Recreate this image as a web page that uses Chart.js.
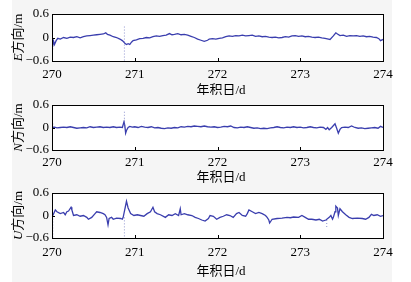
<!DOCTYPE html>
<html>
<head>
<meta charset="utf-8">
<script src="https://cdn.jsdelivr.net/npm/chart.js@4.4.1/dist/chart.umd.min.js"></script>
<style>
  html, body { margin: 0; padding: 0; background: #fff; }
  #page { position: relative; width: 411px; height: 282px; overflow: hidden; }
  #shade { position: absolute; left: 12px; top: 0; width: 380px; height: 282px; background: #f5f5f5; }
  canvas { position: absolute; left: 0; }
</style>
</head>
<body>
<div id="page">
  <div id="shade"></div>
  <canvas id="cE" width="411" height="95" style="top:0px"></canvas>
  <canvas id="cN" width="411" height="90" style="top:95px"></canvas>
  <canvas id="cU" width="411" height="97" style="top:185px"></canvas>
</div>
<script>
// axis ticks
const dayTicks = [270, 271, 272, 273, 274];
const valueTicks = [-0.6, 0, 0.6];

// E direction residuals (m)
const eDays = [270.00, 270.01, 270.02, 270.03, 270.05, 270.07, 270.10, 270.14, 270.18, 270.22,
  270.26, 270.30, 270.34, 270.38, 270.42, 270.46, 270.50, 270.54, 270.58, 270.62,
  270.65, 270.67, 270.70, 270.74, 270.78, 270.82, 270.85, 270.87, 270.88, 270.90,
  270.92, 270.94, 270.96, 270.98, 271.02, 271.06, 271.10, 271.14, 271.18, 271.22,
  271.26, 271.30, 271.34, 271.38, 271.42, 271.45, 271.48, 271.52, 271.56, 271.60,
  271.64, 271.68, 271.72, 271.76, 271.80, 271.84, 271.88, 271.90, 271.94, 271.98,
  272.02, 272.06, 272.10, 272.14, 272.18, 272.22, 272.26, 272.30, 272.34, 272.38,
  272.42, 272.46, 272.50, 272.54, 272.58, 272.62, 272.66, 272.70, 272.74, 272.78,
  272.82, 272.86, 272.90, 272.94, 272.98, 273.02, 273.06, 273.10, 273.14, 273.18,
  273.22, 273.26, 273.30, 273.34, 273.36, 273.40, 273.43, 273.45, 273.48, 273.52,
  273.56, 273.60, 273.64, 273.68, 273.72, 273.76, 273.80, 273.84, 273.88, 273.92,
  273.95, 273.97, 274.00];
const eVals = [-0.05, -0.20, -0.10, -0.18, -0.08, -0.02, -0.04, 0.00, -0.02, 0.01,
  0.00, 0.02, -0.01, 0.02, 0.04, 0.05, 0.06, 0.07, 0.08, 0.09,
  0.12, 0.08, 0.06, 0.02, 0.00, -0.04, -0.08, -0.12, -0.15, -0.18,
  -0.16, -0.18, -0.12, -0.08, -0.06, -0.03, -0.02, 0.00, -0.01, 0.02,
  0.04, 0.03, 0.05, 0.06, 0.10, 0.07, 0.08, 0.10, 0.07, 0.08,
  0.06, 0.03, 0.00, -0.04, -0.07, -0.10, -0.07, -0.04, -0.03, -0.04,
  -0.02, -0.01, 0.02, 0.04, 0.03, 0.05, 0.04, 0.06, 0.04, 0.05,
  0.06, 0.03, 0.04, 0.02, 0.03, 0.01, 0.00, 0.01, -0.01, 0.00,
  0.02, 0.01, 0.04, 0.05, 0.03, 0.04, 0.02, 0.03, 0.01, 0.00,
  0.01, -0.01, -0.02, -0.04, -0.05, 0.04, 0.12, 0.09, 0.05, 0.06,
  0.03, 0.05, 0.04, 0.05, 0.03, 0.04, 0.02, 0.03, 0.01, 0.00,
  -0.03, -0.08, -0.05];
const eSpikes = [[270.01, -0.05, -0.32], [270.875, 0.28, -0.6]];

// N direction residuals (m)
const nDays = [270.00, 270.03, 270.06, 270.10, 270.14, 270.18, 270.22, 270.26, 270.30, 270.34,
  270.38, 270.42, 270.46, 270.50, 270.54, 270.58, 270.62, 270.66, 270.70, 270.74,
  270.78, 270.82, 270.85, 270.87, 270.88, 270.89, 270.90, 270.92, 270.94, 270.97,
  271.00, 271.04, 271.08, 271.12, 271.16, 271.20, 271.24, 271.28, 271.32, 271.36,
  271.40, 271.44, 271.48, 271.52, 271.56, 271.60, 271.64, 271.68, 271.72, 271.76,
  271.80, 271.84, 271.88, 271.92, 271.96, 272.00, 272.04, 272.08, 272.12, 272.16,
  272.20, 272.24, 272.28, 272.32, 272.36, 272.40, 272.44, 272.48, 272.52, 272.56,
  272.60, 272.64, 272.68, 272.72, 272.76, 272.80, 272.84, 272.88, 272.92, 272.96,
  273.00, 273.04, 273.08, 273.12, 273.16, 273.20, 273.24, 273.28, 273.31, 273.33,
  273.35, 273.38, 273.42, 273.44, 273.46, 273.48, 273.50, 273.54, 273.58, 273.62,
  273.66, 273.70, 273.74, 273.78, 273.82, 273.86, 273.90, 273.94, 273.97, 274.00];
const nVals = [0.00, 0.01, -0.01, 0.00, 0.01, 0.00, 0.02, 0.00, -0.02, -0.01,
  0.00, -0.01, 0.02, 0.00, 0.01, 0.02, 0.00, 0.01, 0.00, 0.02,
  0.00, 0.01, 0.00, 0.15, 0.05, -0.15, -0.08, 0.00, 0.03, 0.01,
  0.02, 0.00, 0.03, 0.01, 0.00, 0.02, -0.01, 0.00, -0.02, -0.03,
  -0.01, -0.02, 0.00, -0.01, 0.02, 0.01, 0.03, 0.02, 0.04, 0.03,
  0.02, 0.04, 0.02, 0.01, 0.02, 0.00, 0.01, 0.03, 0.02, 0.04,
  0.00, -0.01, 0.01, 0.00, 0.02, 0.00, -0.02, -0.01, -0.03, -0.02,
  -0.03, -0.01, 0.00, 0.02, 0.00, -0.01, 0.01, 0.00, 0.02, 0.00,
  0.01, -0.01, 0.00, 0.02, 0.00, -0.01, 0.01, 0.00, -0.05, 0.00,
  -0.06, 0.00, 0.10, -0.02, -0.15, -0.05, 0.00, 0.01, 0.00, 0.04,
  0.00, -0.02, -0.01, -0.03, -0.02, -0.01, 0.00, -0.02, 0.03, 0.00];
const nSpikes = [[270.875, 0.42, 0.0], [270.01, 0.0, 0.15]];

// U direction residuals (m)
const uDays = [270.01, 270.04, 270.06, 270.10, 270.14, 270.16, 270.18, 270.20, 270.23, 270.24,
  270.26, 270.30, 270.34, 270.38, 270.42, 270.44, 270.48, 270.52, 270.54, 270.58,
  270.62, 270.64, 270.66, 270.677, 270.69, 270.72, 270.74, 270.78, 270.83, 270.85,
  270.86, 270.90, 270.92, 270.95, 270.99, 271.03, 271.07, 271.11, 271.15, 271.19,
  271.22, 271.24, 271.27, 271.31, 271.37, 271.41, 271.45, 271.49, 271.53, 271.55,
  271.56, 271.60, 271.64, 271.69, 271.73, 271.77, 271.81, 271.85, 271.89, 271.91,
  271.95, 271.99, 272.03, 272.07, 272.11, 272.15, 272.19, 272.23, 272.26, 272.30,
  272.34, 272.36, 272.38, 272.42, 272.46, 272.50, 272.54, 272.58, 272.60, 272.62,
  272.63, 272.66, 272.72, 272.78, 272.84, 272.88, 272.92, 272.98, 273.02, 273.06,
  273.10, 273.14, 273.19, 273.23, 273.27, 273.31, 273.35, 273.37, 273.39, 273.40,
  273.42, 273.43, 273.45, 273.46, 273.48, 273.51, 273.55, 273.59, 273.63, 273.69,
  273.75, 273.79, 273.83, 273.86, 273.89, 273.93, 273.97, 274.00];
const uVals = [0.00, 0.15, 0.10, 0.05, 0.08, 0.02, 0.10, 0.12, 0.22, 0.15,
  0.00, 0.02, -0.02, 0.00, -0.05, -0.10, -0.05, 0.05, 0.10, 0.08,
  0.05, 0.02, -0.05, -0.25, -0.08, -0.05, -0.10, -0.07, -0.08, -0.10,
  -0.05, 0.38, 0.20, 0.05, 0.00, 0.02, 0.00, -0.02, 0.05, 0.10,
  0.22, 0.10, 0.05, 0.02, -0.05, 0.02, 0.00, 0.05, 0.00, 0.18,
  0.02, 0.05, 0.02, 0.00, -0.05, -0.08, -0.12, -0.15, -0.08, 0.00,
  -0.02, -0.10, -0.05, -0.02, 0.02, 0.00, -0.05, 0.05, 0.08, 0.00,
  -0.02, 0.05, 0.15, 0.10, 0.05, 0.08, 0.05, 0.00, -0.05, -0.12,
  -0.20, -0.10, -0.08, -0.07, -0.05, -0.06, -0.04, -0.05, 0.00, -0.05,
  -0.10, -0.10, -0.12, -0.10, -0.15, -0.12, -0.05, 0.00, -0.10, -0.05,
  0.10, 0.25, 0.20, 0.00, 0.18, 0.10, 0.02, -0.05, -0.08, -0.07,
  -0.08, -0.10, -0.05, 0.03, 0.00, 0.02, -0.02, 0.00];
const uSpikes = [[270.01, 0.0, -0.6], [270.875, -0.05, -0.6], [273.32, -0.12, -0.35]];

const serif = '"Liberation Serif", "Noto Sans CJK SC", serif';
const lineColor = '#3a3eae';

const framePlugin = {
  id: 'frame',
  beforeDraw(chart) {
    const a = chart.chartArea, ctx = chart.ctx;
    ctx.save();
    ctx.fillStyle = '#ffffff';
    ctx.fillRect(a.left, a.top, a.right - a.left, a.bottom - a.top);
    ctx.restore();
  },
  afterDraw(chart, args, opts) {
    const a = chart.chartArea, ctx = chart.ctx;
    const xs = chart.scales.x, ys = chart.scales.y;
    ctx.save();
    ctx.strokeStyle = '#000';
    ctx.lineWidth = 1;
    ctx.strokeRect(Math.round(a.left) + 0.5, Math.round(a.top) + 0.5,
      Math.round(a.right - a.left), Math.round(a.bottom - a.top));
    // inner tick marks
    ctx.beginPath();
    dayTicks.forEach(d => {
      const px = Math.round(xs.getPixelForValue(d)) + 0.5;
      ctx.moveTo(px, a.bottom);
      ctx.lineTo(px, a.bottom - 3);
    });
    valueTicks.forEach(v => {
      const py = Math.round(ys.getPixelForValue(v)) + 0.5;
      ctx.moveTo(a.left, py);
      ctx.lineTo(a.left + 3, py);
    });
    ctx.stroke();

    // x title
    ctx.fillStyle = '#000';
    ctx.font = '13px ' + serif;
    ctx.textAlign = 'center';
    ctx.textBaseline = 'middle';
    ctx.fillText('年积日/d', opts.xTitleX, a.bottom + opts.xTitleGap);

    // y title, rotated, with italic letter
    const cy = (a.top + a.bottom) / 2;
    ctx.translate(opts.yTitleX, cy);
    ctx.rotate(-Math.PI / 2);
    ctx.font = 'italic 13px ' + serif;
    const w1 = ctx.measureText(opts.letter).width;
    ctx.font = '13px ' + serif;
    const w2 = ctx.measureText('方向/m').width;
    const start = -(w1 + w2) / 2;
    ctx.textAlign = 'left';
    ctx.font = 'italic 13px ' + serif;
    ctx.fillText(opts.letter, start, 0);
    ctx.font = '13px ' + serif;
    ctx.fillText('方向/m', start + w1, 0);
    ctx.restore();
  }
};

function makePanel(canvasId, letter, days, vals, spikes, layout) {
  const points = days.map((d, i) => ({ x: d, y: vals[i] }));
  const spikePts = [];
  spikes.forEach(s => {
    spikePts.push({ x: s[0], y: s[1] }, { x: s[0], y: s[2] }, { x: s[0], y: null });
  });
  const h = document.getElementById(canvasId).height;
  return new Chart(document.getElementById(canvasId), {
    type: 'line',
    data: {
      datasets: [
        {
          data: spikePts,
          borderColor: 'rgba(100,105,190,0.7)',
          borderWidth: 1,
          borderDash: [1, 2],
          pointRadius: 0,
          spanGaps: false
        },
        {
          data: points,
          borderColor: lineColor,
          borderWidth: 1.3,
          pointRadius: 0,
          tension: 0
        }
      ]
    },
    options: {
      responsive: false,
      animation: false,
      events: [],
      layout: { padding: { top: layout.top, right: 28, left: 0, bottom: 0 } },
      plugins: {
        legend: { display: false },
        tooltip: { enabled: false },
        frame: { letter: letter, xTitleX: 221, xTitleGap: layout.titleGap, yTitleX: 19 }
      },
      scales: {
        x: {
          type: 'linear',
          min: 270, max: 274,
          grid: { display: false, drawTicks: false },
          border: { display: false },
          afterBuildTicks: s => { s.ticks = dayTicks.map(v => ({ value: v })); },
          afterFit: s => { s.height = h - layout.bottom; s.paddingLeft = 0; s.paddingRight = 0; },
          ticks: {
            color: '#000',
            font: { family: serif, size: 13 },
            padding: layout.tickPad,
            maxRotation: 0,
            callback: v => String(v)
          }
        },
        y: {
          min: -0.6, max: 0.6,
          grid: { display: false, drawTicks: false },
          border: { display: false },
          afterBuildTicks: s => { s.ticks = valueTicks.map(v => ({ value: v })); },
          afterFit: s => { s.width = 52; s.paddingTop = 0; s.paddingBottom = 0; },
          ticks: {
            color: '#000',
            font: { family: serif, size: 13 },
            padding: 3,
            callback: v => v === 0 ? '0' : (v < 0 ? '\u2212' + Math.abs(v).toFixed(1) : v.toFixed(1))
          }
        }
      }
    },
    plugins: [framePlugin]
  });
}

makePanel('cE', 'E', eDays, eVals, eSpikes, { top: 14, bottom: 61, tickPad: 6, titleGap: 30 });
makePanel('cN', 'N', nDays, nVals, nSpikes, { top: 10, bottom: 55, tickPad: 5, titleGap: 28 });
makePanel('cU', 'U', uDays, uVals, uSpikes, { top: 8, bottom: 53, tickPad: 7, titleGap: 34 });
</script>
</body>
</html>
